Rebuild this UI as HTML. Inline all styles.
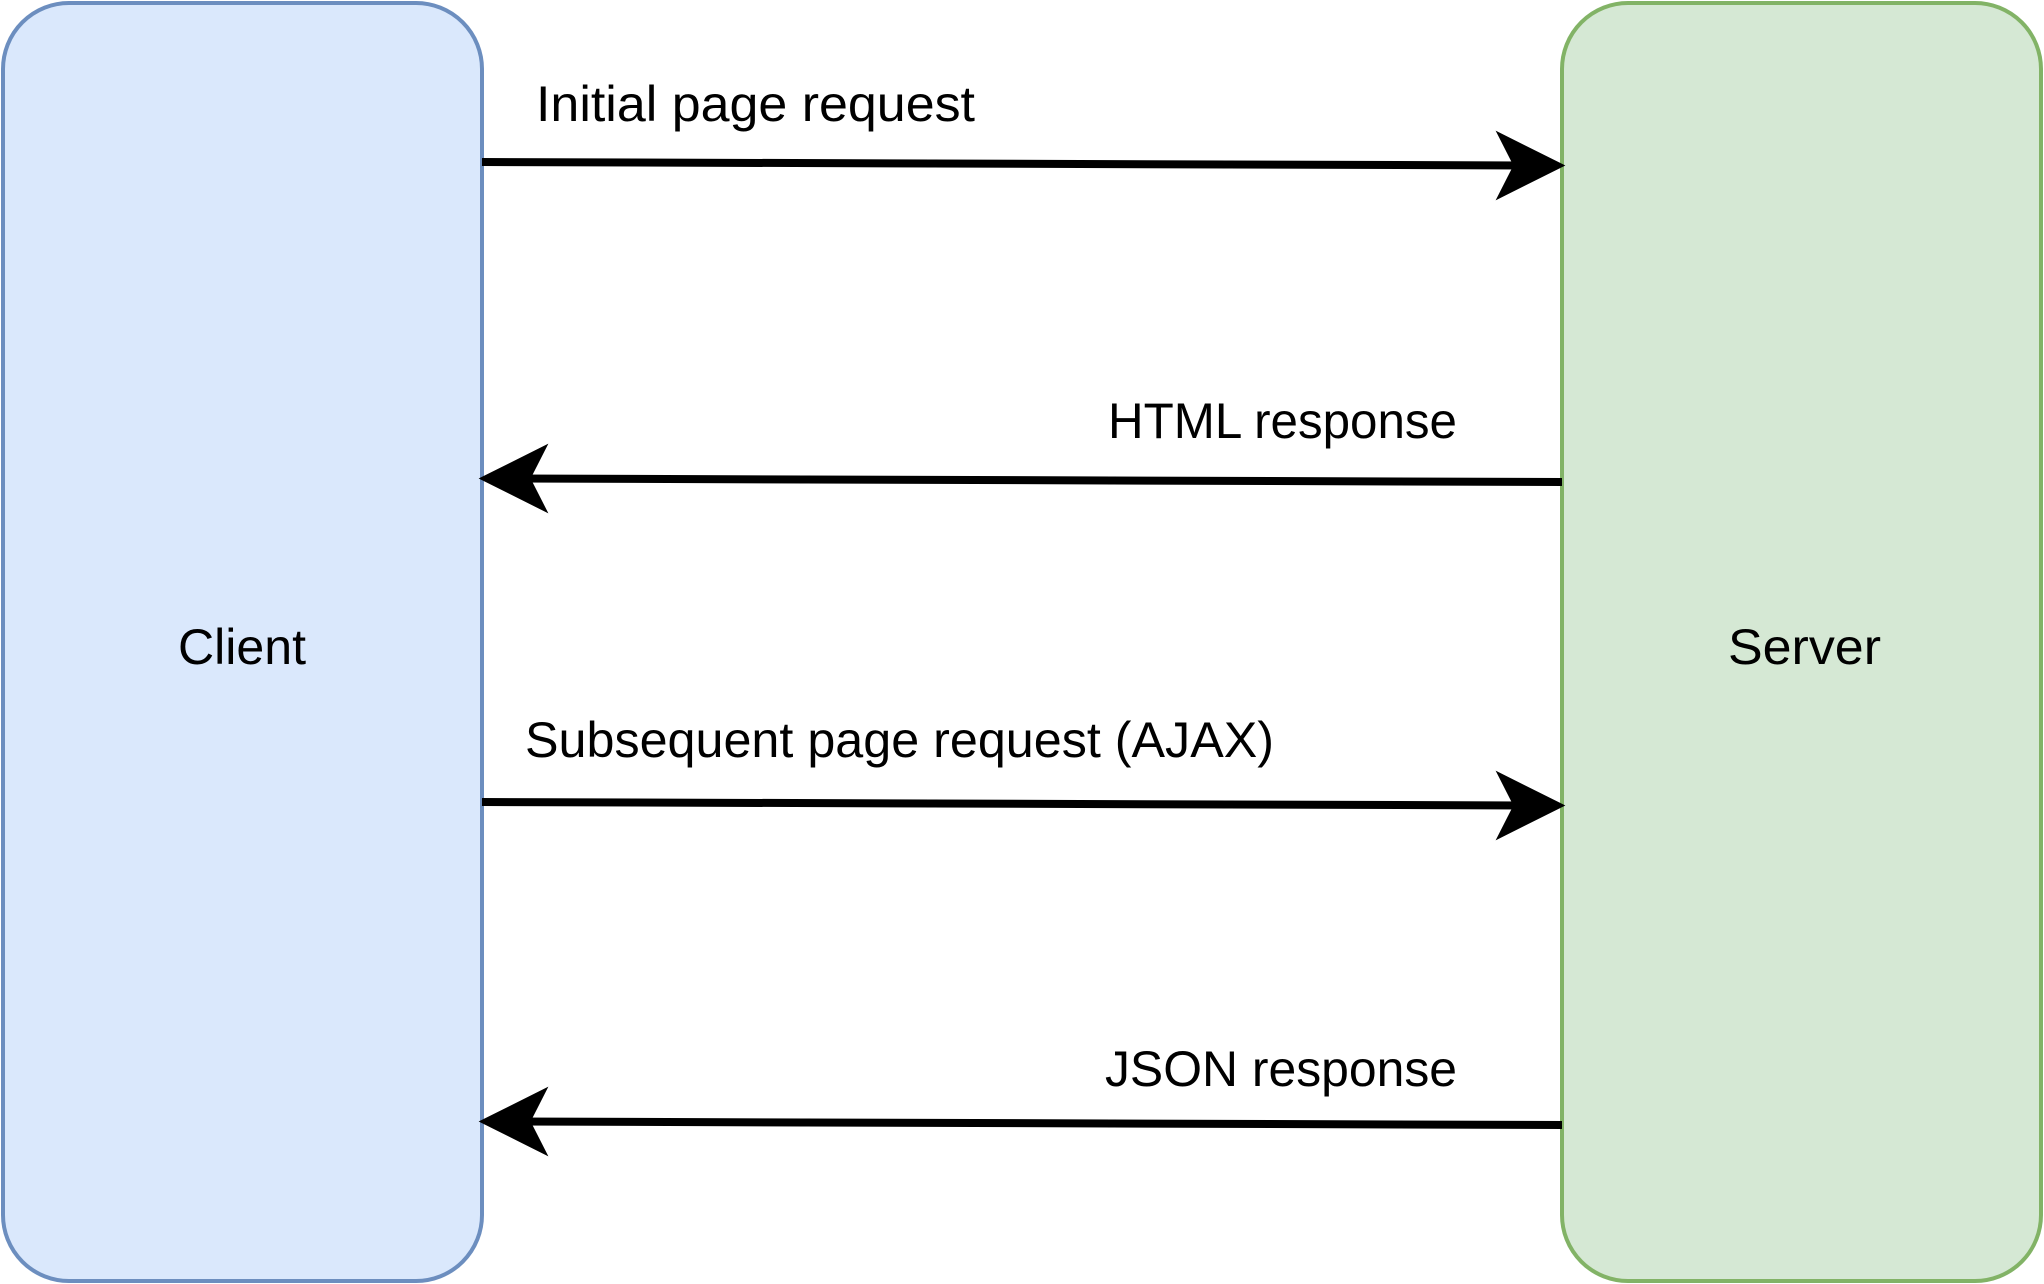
<!DOCTYPE html>
<html><head><meta charset="utf-8"><style>html,body{margin:0;padding:0;background:#fff}svg{display:block}</style></head>
<body>
<svg width="2044" height="1284" viewBox="0 0 2044 1284" xmlns="http://www.w3.org/2000/svg" font-family="'Liberation Sans', sans-serif" font-size="50" fill="#000">
<rect x="3" y="3" width="479" height="1278" rx="66" fill="#dae8fc" stroke="#6c8ebf" stroke-width="4"/>
<rect x="1562" y="3" width="479" height="1278" rx="66" fill="#d5e8d4" stroke="#82b366" stroke-width="4"/>
<g stroke="#000" stroke-width="8">
<line x1="482" y1="162" x2="1530" y2="165.5"/>
<line x1="1562" y1="482" x2="514" y2="478.5"/>
<line x1="482" y1="802" x2="1530" y2="805.5"/>
<line x1="1562" y1="1125" x2="514" y2="1121.5"/>
</g>
<g stroke="#000" stroke-width="3" stroke-linejoin="miter">
<path d="M1562 165.5 L1499 134 L1515 165.5 L1499 197 Z"/>
<path d="M482 478.5 L545 447 L529 478.5 L545 510 Z"/>
<path d="M1562 805.5 L1499 774 L1515 805.5 L1499 837 Z"/>
<path d="M482 1121.5 L545 1090 L529 1121.5 L545 1153 Z"/>
</g>
<text x="536" y="121" textLength="439" lengthAdjust="spacingAndGlyphs">Initial page request</text>
<text x="1108" y="438" textLength="349" lengthAdjust="spacingAndGlyphs">HTML response</text>
<text x="525" y="757" textLength="749" lengthAdjust="spacingAndGlyphs">Subsequent page request (AJAX)</text>
<text x="1105" y="1086" textLength="352" lengthAdjust="spacingAndGlyphs">JSON response</text>
<text x="178" y="664" textLength="128" lengthAdjust="spacingAndGlyphs">Client</text>
<text x="1728" y="664" textLength="153" lengthAdjust="spacingAndGlyphs">Server</text>
</svg>
</body></html>
